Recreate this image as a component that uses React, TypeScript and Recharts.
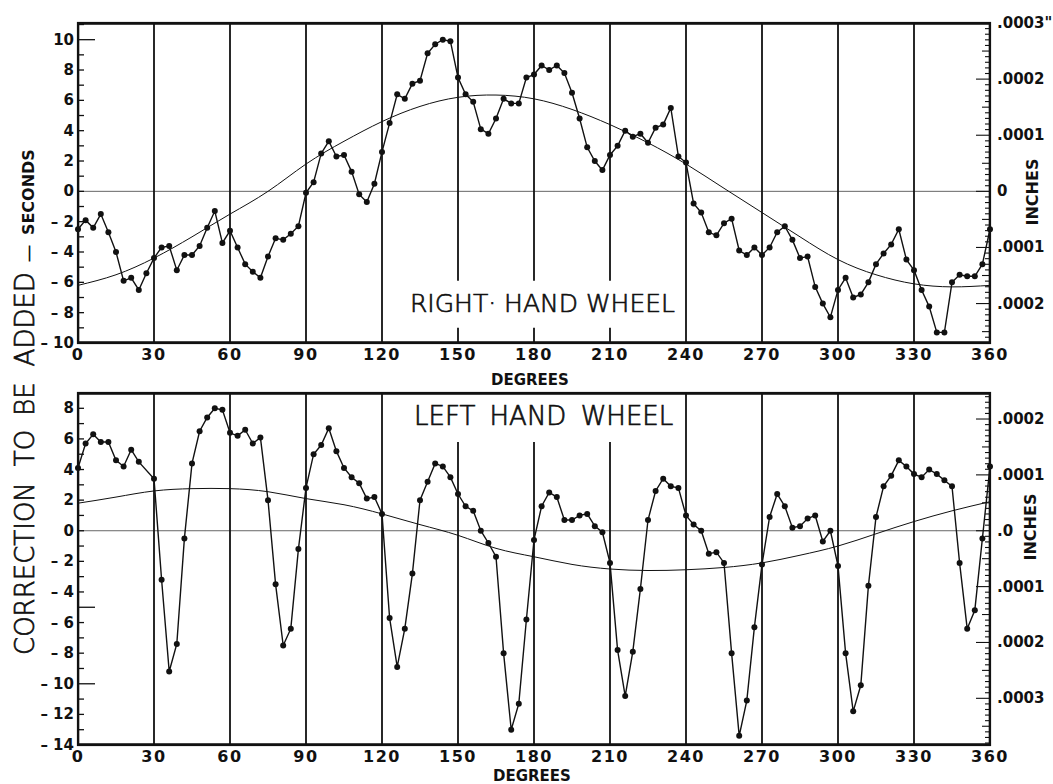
import { LineChart, Line, XAxis, YAxis, ReferenceLine } from "recharts"

const FONT = "'DejaVu Sans', sans-serif"
const INK = "#111"
const PLOT_LEFT = 78
const PLOT_RIGHT = 990
const DEG_PER_PX = 360 / (PLOT_RIGHT - PLOT_LEFT)
const IN = 0.05 // keep edge segments a hair inside the x domain

// ── data: readings every 3 degrees ───────────────────────────────────────────
const DEGREES = Array.from({ length: 121 }, (_, i) => i * 3)

const RIGHT_WHEEL = [
  -2.5, -1.9, -2.4, -1.5, -2.7, -4.0, -5.9, -5.7, -6.5, -5.4,
  -4.4, -3.7, -3.6, -5.2, -4.2, -4.2, -3.6, -2.4, -1.3, -3.4,
  -2.6, -3.7, -4.8, -5.3, -5.7, -4.3, -3.1, -3.2, -2.8, -2.3,
  -0.1, 0.6, 2.5, 3.3, 2.3, 2.4, 1.3, -0.2, -0.7, 0.5,
  2.6, 4.5, 6.4, 6.1, 7.1, 7.3, 9.1, 9.7, 10.0, 9.9,
  7.5, 6.4, 5.9, 4.1, 3.8, 4.8, 6.1, 5.8, 5.8, 7.5,
  7.7, 8.3, 8.0, 8.3, 7.8, 6.5, 4.8, 2.9, 2.0, 1.4,
  2.4, 3.0, 4.0, 3.6, 3.8, 3.2, 4.2, 4.4, 5.5, 2.3,
  1.9, -0.8, -1.4, -2.7, -2.9, -2.1, -1.8, -3.9, -4.2, -3.7,
  -4.2, -3.7, -2.7, -2.3, -3.2, -4.4, -4.3, -6.3, -7.4, -8.3,
  -6.5, -5.7, -7.0, -6.8, -6.0, -4.8, -4.1, -3.5, -2.5, -4.5,
  -5.2, -6.5, -7.6, -9.3, -9.3, -6.0, -5.5, -5.6, -5.6, -4.8,
  -2.5,
]

const LEFT_WHEEL = [
  4.1, 5.7, 6.3, 5.8, 5.8, 4.6, 4.2, 5.3, 4.5, null,
  3.4, -3.2, -9.2, -7.4, -0.5, 4.4, 6.5, 7.4, 8.0, 7.9,
  6.4, 6.2, 6.6, 5.7, 6.1, 2.0, -3.5, -7.5, -6.4, -1.2,
  2.8, 5.0, 5.6, 6.7, 5.2, 4.1, 3.5, 3.1, 2.1, 2.2,
  1.1, -5.7, -8.9, -6.4, -2.8, 2.0, 3.2, 4.4, 4.2, 3.5,
  2.4, 1.6, 1.3, 0.0, -0.8, -1.7, -8.0, -13.0, -11.3, -5.8,
  -0.6, 1.6, 2.5, 2.2, 0.7, 0.7, 1.0, 1.1, 0.3, -0.1,
  -2.1, -7.8, -10.8, -7.9, -3.8, 0.7, 2.6, 3.4, 2.9, 2.8,
  1.0, 0.4, 0.0, -1.5, -1.4, -2.1, -8.0, -13.4, -11.1, -6.3,
  -2.2, 0.9, 2.4, 1.6, 0.2, 0.3, 0.8, 1.0, -0.7, 0.0,
  -2.3, -8.0, -11.8, -10.1, -3.6, 0.9, 2.9, 3.6, 4.6, 4.2,
  3.7, 3.5, 4.0, 3.7, 3.3, 2.9, -2.1, -6.4, -5.2, -0.5,
  4.2,
]

// fitted curves, read every 15 degrees
const FIT_DEGREES = [0, 15, 30, 45, 60, 75, 90, 105, 120, 135, 150, 165, 180, 195, 210, 225, 240, 255, 270, 285, 300, 315, 330, 345, 360]
const RIGHT_FIT = [-6.2, -5.5, -4.4, -3.0, -1.5, 0.0, 1.8, 3.3, 4.6, 5.6, 6.2, 6.35, 6.1, 5.4, 4.4, 3.2, 1.8, 0.2, -1.4, -3.0, -4.5, -5.5, -6.1, -6.3, -6.2]
const LEFT_FIT = [1.8, 2.2, 2.6, 2.75, 2.75, 2.55, 2.1, 1.7, 1.1, 0.4, -0.3, -1.15, -1.7, -2.2, -2.5, -2.6, -2.55, -2.4, -2.1, -1.6, -1.0, -0.2, 0.6, 1.3, 1.9]

// ── axes ─────────────────────────────────────────────────────────────────────
const X_TICKS = [0, 30, 60, 90, 120, 150, 180, 210, 240, 270, 300, 330, 360]
const GRID_X = [30, 60, 90, 120, 150, 180, 210, 240, 270, 300, 330]
const SPLIT_X = [150, 180, 210]

const TOP_DOMAIN = [-10, 11.1]
const BOTTOM_DOMAIN = [-14, 9]
const TOP_LEFT_TICKS = [-9, -8, -7, -6, -5, -4, -3, -2, -1, 0, 1, 2, 3, 4, 5, 6, 7, 8, 9, 10, 11]
const BOTTOM_LEFT_TICKS = [-13, -12, -11, -10, -9, -8, -7, -6, -5, -4, -3, -2, -1, 0, 1, 2, 3, 4, 5, 6, 7, 8]
const TOP_LABELS = [-10, -8, -6, -4, -2, 0, 2, 4, 6, 8, 10]
const BOTTOM_LABELS = [-14, -12, -10, -8, -6, -4, -2, 0, 2, 4, 6, 8]
const TOP_LONG = [10]
const BOTTOM_LONG = [-10, -5]

const TOP_RIGHT_INCHES = [0.0003, 0.0002, 0.0001, 0, -0.0001, -0.0002]
const TOP_RIGHT_LABELS = [".0003\"", ".0002", ".0001", "0", ".0001", ".0002"]
const BOTTOM_RIGHT_INCHES = [0.0002, 0.0001, 0, -0.0001, -0.0002, -0.0003]
const BOTTOM_RIGHT_LABELS = [".0002", ".0001", ".0", ".0001", ".0002", ".0003"]
const TOP_SEC_PER_INCH = 37000
const BOTTOM_SEC_PER_INCH = 36500

const rows = (ys: (number | null)[], xs: number[]) => xs.map((deg, i) => ({ deg, v: ys[i] }))
const fmt = (v: number) => (v < 0 ? `– ${Math.abs(v)}` : `${v}`)

function LeftLabel(props: any) {
  const { y, payload } = props
  return (
    <text x={PLOT_LEFT - 4} y={y} textAnchor="end" dominantBaseline="central" fontFamily={FONT} fontWeight="bold" fontSize={15} fill={INK}>
      {fmt(payload.value)}
    </text>
  )
}

function RightLabel(props: any) {
  const { y, payload, inches, labels, spi } = props
  const idx = inches.findIndex((inch: number) => Math.abs(inch * spi - payload.value) < 1e-6)
  return (
    <text x={PLOT_RIGHT + 7} y={y} textAnchor="start" dominantBaseline="central" fontFamily={FONT} fontWeight="bold" fontSize={15} fill={INK}>
      {labels[idx]}
    </text>
  )
}

interface PanelProps {
  values: (number | null)[]
  fit: number[]
  domain: number[]
  leftTicks: number[]
  leftLabels: number[]
  longTicks: number[]
  inches: number[]
  labels: string[]
  spi: number
  splits: number[][]
  height: number
  bottom: number
}

function Panel({ values, fit, domain, leftTicks, leftLabels, longTicks, inches, labels, spi, splits, height, bottom }: PanelProps) {
  const step = 1e-5 * spi
  const kMin = Math.ceil(domain[0] / step + 1e-6)
  const kMax = Math.floor(domain[1] / step - 1e-6)
  const minor: { v: number; len: number }[] = []
  for (let k = kMin; k <= kMax; k++) {
    minor.push({ v: k * step, len: k % 10 === 0 ? 14 : k % 5 === 0 ? 8 : 5 })
  }
  const [lo, hi] = domain
  const ey = (hi - lo) * 0.002
  const tick = { yAxisId: "l", stroke: INK, strokeWidth: 1.3 }
  const edge = { yAxisId: "l", stroke: INK, strokeWidth: 2.2 }

  return (
    <LineChart width={1053} height={height} margin={{ top: 23, right: 23, bottom, left: 38 }}>
      <XAxis
        dataKey="deg" type="number" domain={[0, 360]} ticks={X_TICKS} interval={0}
        axisLine={false} tickLine={false} tickSize={0} tickMargin={6} height={30}
        tick={{ fontSize: 16, fontWeight: "bold", fill: INK, fontFamily: FONT, letterSpacing: 1.5, stroke: "none" }}
      />
      <YAxis
        yAxisId="l" type="number" domain={domain} ticks={leftLabels} interval={0} width={40}
        axisLine={false} tickLine={false} tickSize={0} tickMargin={3} allowDataOverflow
        tick={(p: any) => <LeftLabel {...p} />}
      />
      <YAxis
        yAxisId="r" orientation="right" type="number" domain={domain} ticks={inches.map((i) => i * spi)} interval={0} width={40}
        axisLine={false} tickLine={false} tickSize={0} tickMargin={0} allowDataOverflow
        tick={(p: any) => <RightLabel {...p} spi={spi} inches={inches} labels={labels} />}
      />
      <ReferenceLine yAxisId="l" y={0} stroke="#666" strokeWidth={1} />

      {/* inward tick marks on both value axes */}
      {leftTicks.map((v) => (
        <ReferenceLine key={`lt${v}`} {...tick} segment={[{ x: IN, y: v }, { x: (longTicks.includes(v) ? 17 : 6) * DEG_PER_PX, y: v }]} />
      ))}
      {minor.map((m, i) => (
        <ReferenceLine key={`rt${i}`} {...tick} strokeWidth={1.1} segment={[{ x: 360 - m.len * DEG_PER_PX, y: m.v }, { x: 360 - IN, y: m.v }]} />
      ))}

      {/* frame */}
      <ReferenceLine {...edge} segment={[{ x: IN, y: hi - ey }, { x: 360 - IN, y: hi - ey }]} />
      <ReferenceLine {...edge} segment={[{ x: IN, y: lo + ey }, { x: 360 - IN, y: lo + ey }]} />
      <ReferenceLine {...edge} segment={[{ x: IN, y: lo + ey }, { x: IN, y: hi - ey }]} />
      <ReferenceLine {...edge} segment={[{ x: 360 - IN, y: lo + ey }, { x: 360 - IN, y: hi - ey }]} />

      {GRID_X.filter((g) => !SPLIT_X.includes(g)).map((g) => (
        <ReferenceLine key={g} yAxisId="l" x={g} stroke={INK} strokeWidth={1.8} />
      ))}
      {SPLIT_X.map((g) =>
        splits.map((s, i) => (
          <ReferenceLine key={`${g}-${i}`} yAxisId="l" segment={[{ x: g, y: s[0] }, { x: g, y: s[1] }]} stroke={INK} strokeWidth={1.8} />
        ))
      )}
      <Line
        yAxisId="r" data={rows(fit, FIT_DEGREES)} dataKey="v" type="natural"
        stroke={INK} strokeWidth={1} dot={false} isAnimationActive={false}
      />
      <Line
        yAxisId="l" data={rows(values, DEGREES)} dataKey="v" type="linear" connectNulls
        stroke={INK} strokeWidth={1.4} dot={{ r: 3, fill: INK, stroke: INK, strokeWidth: 0 }}
        isAnimationActive={false}
      />
    </LineChart>
  )
}

export default function App() {
  const thin = { stroke: INK, strokeWidth: 0.7 }
  return (
    <div style={{ position: "absolute", top: 0, left: 0, width: 1053, height: 784, background: "white", overflow: "hidden" }}>
      <div style={{ position: "absolute", top: 0, left: 0 }}>
        <Panel
          values={RIGHT_WHEEL} fit={RIGHT_FIT} domain={TOP_DOMAIN}
          leftTicks={TOP_LEFT_TICKS} leftLabels={TOP_LABELS} longTicks={TOP_LONG}
          inches={TOP_RIGHT_INCHES} labels={TOP_RIGHT_LABELS} spi={TOP_SEC_PER_INCH}
          splits={[[11.1, -5.9], [-9.0, -10]]} height={380} bottom={7}
        />
      </div>
      <div style={{ position: "absolute", top: 370, left: 0 }}>
        <Panel
          values={LEFT_WHEEL} fit={LEFT_FIT} domain={BOTTOM_DOMAIN}
          leftTicks={BOTTOM_LEFT_TICKS} leftLabels={BOTTOM_LABELS} longTicks={BOTTOM_LONG}
          inches={BOTTOM_RIGHT_INCHES} labels={BOTTOM_RIGHT_LABELS} spi={BOTTOM_SEC_PER_INCH}
          splits={[[5.8, -14]]} height={414} bottom={9}
        />
      </div>

      {/* panel frames (fallback), titles and axis names */}
      <svg width={1053} height={784} style={{ position: "absolute", top: 0, left: 0, pointerEvents: "none" }} fontFamily={FONT} fill={INK}>
        <rect x={PLOT_LEFT} y={23} width={PLOT_RIGHT - PLOT_LEFT} height={320} fill="none" stroke={INK} strokeWidth={2.2} />
        <rect x={PLOT_LEFT} y={393} width={PLOT_RIGHT - PLOT_LEFT} height={352} fill="none" stroke={INK} strokeWidth={2.2} />

        <text x={410} y={312} fontSize={25} fontWeight={200} {...thin}>RIGHT· HAND WHEEL</text>
        <text x={414} y={425} fontSize={26} fontWeight={200} wordSpacing={6} {...thin}>LEFT HAND WHEEL</text>
        <text x={530} y={385} fontSize={15} fontWeight="bold" textAnchor="middle">DEGREES</text>
        <text x={532} y={781} fontSize={15} fontWeight="bold" textAnchor="middle">DEGREES</text>

        <text transform="translate(34,655) rotate(-90)" fontSize={26} fontWeight={200} {...thin}>
          <tspan>CORRECTION</tspan>
          <tspan dx={16}>TO</tspan>
          <tspan dx={14}>BE</tspan>
          <tspan dx={16}>ADDED</tspan>
          <tspan dx={10} fontSize={17}>—</tspan>
          <tspan dx={10} fontSize={16} fontWeight="bold" strokeWidth={0}>SECONDS</tspan>
        </text>

        <text transform="translate(1038,192) rotate(-90)" fontSize={16} fontWeight="bold" textAnchor="middle">INCHES</text>
        <text transform="translate(1036,527) rotate(-90)" fontSize={16} fontWeight="bold" textAnchor="middle">INCHES</text>
      </svg>
    </div>
  )
}
